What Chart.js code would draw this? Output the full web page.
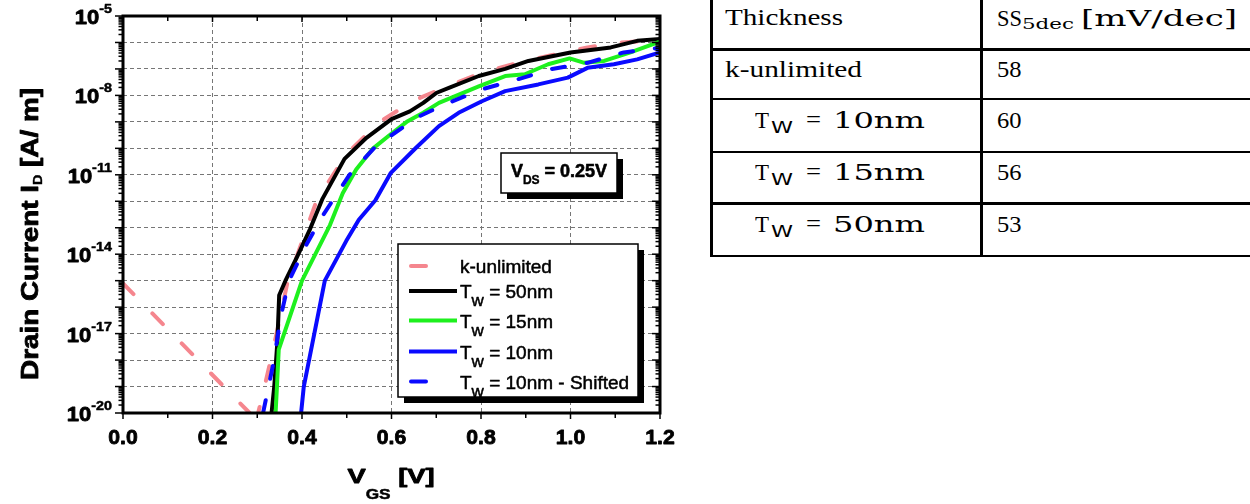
<!DOCTYPE html>
<html>
<head>
<meta charset="utf-8">
<script src="https://cdn.jsdelivr.net/npm/chart.js@4.4.1/dist/chart.umd.min.js"></script>
<style>
html, body { margin: 0; padding: 0; background: #fff; }
#wrap { position: relative; width: 1250px; height: 504px; overflow: hidden; }
#plot { position: absolute; left: 0; top: 0; }
.ln { position: absolute; background: #000; }
.tx { position: absolute; white-space: pre; color: #000; transform-origin: 0 0; }
</style>
</head>
<body>
<div id="wrap">
  <canvas id="plot" width="700" height="504"></canvas>
  <div id="tbl"></div>
</div>
<script>
'use strict';

// values, V_GS in volts, I_D in A/um
var kUnlimitedV = [0, 0.283, 0.292, 0.302, 0.315, 0.334, 0.351, 0.367, 0.387, 0.433, 0.5, 0.574, 0.649, 0.724, 0.802, 0.883, 0.957, 1.038, 1.112, 1.2];
var kUnlimitedI = [7.9e-16, 1.0e-20, 3.2e-22, 1.0e-20, 7.9e-20, 2.0e-18, 4.0e-17, 7.9e-16, 7.1e-15, 1.1e-12, 6.3e-11, 1.0e-9, 6.3e-9, 2.2e-8, 7.2e-8, 1.7e-7, 3.3e-7, 6.5e-7, 1.0e-6, 1.2e-6];

var tw50V = [0.332, 0.338, 0.345, 0.349, 0.363, 0.389, 0.418, 0.446, 0.495, 0.544, 0.6, 0.641, 0.671, 0.701, 0.731, 0.795, 0.854, 0.906, 1.0, 1.09, 1.149, 1.2];
var tw50I = [1.0e-20, 1.0e-19, 5.0e-18, 2.8e-16, 1.0e-15, 7.9e-15, 8.9e-14, 1.26e-12, 4.0e-11, 2.5e-10, 1.26e-9, 2.5e-9, 5.2e-9, 1.26e-8, 2.0e-8, 5.4e-8, 1.0e-7, 2.0e-7, 4.2e-7, 6.5e-7, 1.15e-6, 1.35e-6];

var tw15V = [0.341, 0.344, 0.348, 0.4, 0.4625, 0.491, 0.521, 0.559, 0.596, 0.634, 0.671, 0.706, 0.795, 0.854, 0.898, 0.95, 0.998, 1.031, 1.075, 1.134, 1.2];
var tw15I = [1.0e-20, 1.0e-19, 2.5e-18, 1.0e-15, 1.26e-13, 2.0e-12, 1.6e-11, 1.0e-10, 3.2e-10, 1.0e-9, 2.2e-9, 5.2e-9, 2.2e-8, 5.4e-8, 6.3e-8, 1.5e-7, 2.5e-7, 1.7e-7, 2.0e-7, 4.2e-7, 1.07e-6];

var tw10V = [0.398, 0.404, 0.451, 0.499, 0.527, 0.564, 0.598, 0.656, 0.706, 0.75, 0.802, 0.854, 0.928, 0.994, 1.038, 1.097, 1.149, 1.2];
var tw10I = [1.0e-20, 1.0e-19, 1.0e-15, 3.2e-14, 2.0e-13, 1.1e-12, 1.15e-11, 1.1e-10, 6.9e-10, 2.2e-9, 6.0e-9, 1.45e-8, 2.6e-8, 4.7e-8, 1.1e-7, 1.5e-7, 2.3e-7, 4.2e-7];

var tw10ShiftV = [0.313, 0.3375, 0.352, 0.371, 0.411, 0.446, 0.506, 0.566, 0.626, 0.656, 0.714, 0.802, 0.883, 0.957, 1.038, 1.119, 1.2];
var tw10ShiftI = [1.0e-20, 1.0e-18, 4.0e-17, 1.0e-15, 2.5e-14, 2.8e-13, 1.0e-11, 1.26e-10, 6.3e-10, 1.45e-9, 4.2e-9, 1.7e-8, 4.1e-8, 9.8e-8, 1.7e-7, 4.2e-7, 6.3e-7];

var seriesLabels = ['k-unlimited', 'T_w = 50nm', 'T_w = 15nm', 'T_w = 10nm', 'T_w = 10nm - Shifted'];

// axis ticks
var xTickValues = [0, 0.2, 0.4, 0.6, 0.8, 1.0, 1.2];
var xTickLabels = ['0.0', '0.2', '0.4', '0.6', '0.8', '1.0', '1.2'];
var yDecades = [1e-20, 1e-19, 1e-18, 1e-17, 1e-16, 1e-15, 1e-14, 1e-13, 1e-12, 1e-11, 1e-10, 1e-9, 1e-8, 1e-7, 1e-6, 1e-5];
var yTickValues = [1e-5, 1e-8, 1e-11, 1e-14, 1e-17, 1e-20];
var yTickExps = ['-5', '-8', '-11', '-14', '-17', '-20'];

// table
var thicknessLabels = ['k-unlimited', 'T_W = 10nm', 'T_W = 15nm', 'T_W = 50nm'];
var ssValues = ['58', '60', '56', '53'];

var SANS = '"Liberation Sans", Arial, sans-serif';
var SERIF = '"Liberation Serif", "Times New Roman", serif';
var MATH = '"DejaVu Serif", serif';

function pts(xs, ys) {
  return xs.map(function(x, i) { return {x: x, y: ys[i]}; });
}

// a run of text pieces, each {t, f, sx, dy, st}
function partsWidth(ctx, parts) {
  var w = 0;
  parts.forEach(function(p) {
    ctx.font = p.f;
    p.w = ctx.measureText(p.t).width * (p.sx || 1);
    w += p.w;
  });
  return w;
}
function drawParts(ctx, parts, x, y) {
  var cx = x;
  parts.forEach(function(p) {
    ctx.save();
    ctx.font = p.f;
    ctx.textAlign = 'left';
    ctx.textBaseline = 'alphabetic';
    ctx.translate(cx, y + (p.dy || 0));
    ctx.scale(p.sx || 1, 1);
    ctx.fillText(p.t, 0, 0);
    if (p.st) {
      // heavier strokes like the original export
      ctx.lineWidth = p.st;
      ctx.strokeStyle = '#000';
      ctx.lineJoin = 'round';
      ctx.strokeText(p.t, 0, 0);
    }
    ctx.restore();
    cx += p.w;
  });
}
function seg(ctx, x1, y1, x2, y2) {
  ctx.beginPath();
  ctx.moveTo(x1, y1);
  ctx.lineTo(x2, y2);
  ctx.stroke();
}
function shadowBox(ctx, x, y, w, h) {
  ctx.fillStyle = '#000';
  ctx.fillRect(x + 6, y + 6, w, h);
  ctx.fillStyle = '#fff';
  ctx.fillRect(x, y, w, h);
  ctx.strokeStyle = '#000';
  ctx.lineWidth = 1.5;
  ctx.strokeRect(x, y, w, h);
  ctx.fillStyle = '#000';
}

var decor = {
  id: 'decor',
  afterDraw: function(chart) {
    var ctx = chart.ctx, a = chart.chartArea;
    var xs = chart.scales.x, ys = chart.scales.y;
    ctx.save();
    ctx.strokeStyle = '#000';
    ctx.fillStyle = '#000';

    // y ticks, out on the left, in on the right
    ctx.lineWidth = 1.5;
    for (var e = -20; e <= -5; e++) {
      for (var m = 1; m <= 9; m++) {
        if (e === -5 && m > 1) break;
        var py = ys.getPixelForValue(m * Math.pow(10, e));
        var len = m === 1 ? 8 : 4.5;
        seg(ctx, a.left - len, py, a.left, py);
        seg(ctx, a.right, py, a.right - len, py);
      }
    }
    // x ticks, every 0.1
    for (var i = 0; i <= 12; i++) {
      var px = xs.getPixelForValue(i / 10);
      var l2 = i % 2 === 0 ? 6 : 5;
      seg(ctx, px, a.bottom, px, a.bottom + l2);
      seg(ctx, px, a.top, px, a.top + l2);
    }
    ctx.lineWidth = 3;
    ctx.strokeRect(a.left, a.top, a.right - a.left, a.bottom - a.top);

    // x tick labels
    xTickValues.forEach(function(v, k) {
      var parts = [{t: xTickLabels[k], f: 'bold 20px ' + SANS, sx: 1.06, st: 0.8}];
      var w = partsWidth(ctx, parts);
      drawParts(ctx, parts, xs.getPixelForValue(v) - w / 2, 444);
    });
    // y tick labels 10^n
    yTickValues.forEach(function(v, k) {
      var parts = [
        {t: '10', f: 'bold 20px ' + SANS, sx: 1.1, st: 0.8},
        {t: yTickExps[k], f: 'bold 13px ' + SANS, sx: 1.1, dy: -11, st: 0.5}
      ];
      var w = partsWidth(ctx, parts);
      drawParts(ctx, parts, 112 - w, ys.getPixelForValue(v) + 8);
    });

    // axis titles
    var xt = [
      {t: 'V', f: 'bold 21px ' + SANS, sx: 1.3, st: 0.8},
      {t: 'GS', f: 'bold 15px ' + SANS, sx: 1.15, dy: 16, st: 0.5},
      {t: ' [V]', f: 'bold 21px ' + SANS, sx: 1.3, st: 0.8}
    ];
    var xw = partsWidth(ctx, xt);
    drawParts(ctx, xt, 391 - xw / 2, 483);

    ctx.save();
    ctx.translate(37.5, 234);
    ctx.rotate(-Math.PI / 2);
    var yt = [
      {t: 'Drain Current I', f: 'bold 24px ' + SANS, sx: 1.16, st: 0.8},
      {t: 'D', f: 'bold 12px ' + SANS, sx: 1.2, dy: 4, st: 0.4},
      {t: ' [A/ m]', f: 'bold 24px ' + SANS, sx: 1.16, st: 0.8}
    ];
    var yw = partsWidth(ctx, yt);
    drawParts(ctx, yt, -yw / 2, 0);
    ctx.restore();

    // V_DS note
    shadowBox(ctx, 501, 153, 116, 40);
    var vd = [
      {t: 'V', f: 'bold 18px ' + SANS, st: 0.6},
      {t: 'DS', f: 'bold 12px ' + SANS, dy: 7, st: 0.4},
      {t: ' = 0.25V', f: 'bold 18px ' + SANS, st: 0.6}
    ];
    var vw = partsWidth(ctx, vd);
    drawParts(ctx, vd, 559 - vw / 2, 177);

    // legend
    shadowBox(ctx, 398, 244, 240, 153);
    var rowY = [266, 291, 320.5, 351.5, 381.5];
    chart.data.datasets.forEach(function(ds, k) {
      var y = rowY[k];
      ctx.save();
      ctx.strokeStyle = ds.borderColor;
      ctx.lineWidth = ds.borderWidth;
      if (ds.borderDash) {
        ctx.lineCap = 'round';
        seg(ctx, 411, y, 426, y);
      } else {
        seg(ctx, 409, y, 457, y);
      }
      ctx.restore();
      var lab = seriesLabels[k];
      var mm = lab.match(/^(.*?)_(\w)(.*)$/);
      var f = '19px ' + SANS;
      var parts = mm ?
        [{t: mm[1], f: f, st: 0.5}, {t: mm[2], f: '17px ' + SANS, dy: 8, st: 0.5}, {t: mm[3], f: f, st: 0.5}] :
        [{t: lab, f: f, st: 0.5}];
      partsWidth(ctx, parts);
      drawParts(ctx, parts, 460, y + 7);
    });

    ctx.restore();
  }
};

var gridOpts = {color: '#767676', lineWidth: 1, drawTicks: false, borderDash: [4, 3]};

new Chart(document.getElementById('plot'), {
  type: 'line',
  data: {
    datasets: [
      {data: pts(kUnlimitedV, kUnlimitedI), borderColor: '#f5868e', borderWidth: 4, borderDash: [15, 27], borderCapStyle: 'round', order: 5},
      {data: pts(tw50V, tw50I), borderColor: '#000000', borderWidth: 4, order: 4},
      {data: pts(tw15V, tw15I), borderColor: '#1ef01e', borderWidth: 4, order: 3},
      {data: pts(tw10V, tw10I), borderColor: '#0a0aff', borderWidth: 4, order: 2},
      {data: pts(tw10ShiftV, tw10ShiftI), borderColor: '#0a0aff', borderWidth: 4, borderDash: [13, 22], borderCapStyle: 'round', order: 1}
    ]
  },
  options: {
    responsive: false,
    animation: false,
    devicePixelRatio: 1,
    layout: {padding: {left: 123, right: 40, top: 16, bottom: 91}},
    plugins: {legend: {display: false}, tooltip: {enabled: false}},
    elements: {
      point: {radius: 0},
      line: {tension: 0, borderJoinStyle: 'round', fill: false}
    },
    datasets: {line: {clip: 0}},
    scales: {
      x: {
        type: 'linear', min: 0, max: 1.2,
        ticks: {display: false, stepSize: 0.2},
        grid: gridOpts,
        border: {display: false, dash: [4, 3]}
      },
      y: {
        type: 'logarithmic', min: 1e-20, max: 1e-5,
        ticks: {display: false},
        afterBuildTicks: function(scale) {
          scale.ticks = yDecades.map(function(v) { return {value: v}; });
        },
        grid: gridOpts,
        border: {display: false, dash: [4, 3]}
      }
    }
  },
  plugins: [decor]
});

// table, html text
var tbl = document.getElementById('tbl');
var mctx = document.createElement('canvas').getContext('2d');

function put(text, x, base, font, w) {
  mctx.font = font;
  var m = mctx.measureText(text);
  var asc = m.fontBoundingBoxAscent, desc = m.fontBoundingBoxDescent;
  var el = document.createElement('div');
  el.className = 'tx';
  el.textContent = text;
  el.style.font = font;
  el.style.lineHeight = (asc + desc) + 'px';
  el.style.left = x + 'px';
  el.style.top = (base - asc) + 'px';
  el.style.transform = 'scaleX(' + (w / m.width) + ')';
  tbl.appendChild(el);
}
function rule(x, y, w, h) {
  var el = document.createElement('div');
  el.className = 'ln';
  el.style.left = x + 'px';
  el.style.top = y + 'px';
  el.style.width = w + 'px';
  el.style.height = h + 'px';
  tbl.appendChild(el);
}

rule(710, 0, 2.6, 257);
rule(980.2, 0, 2.6, 257);
[48.3, 97.7, 150.7, 202.3, 254.7].forEach(function(y) { rule(710, y, 540, 2.5); });

var F = '23px ' + SERIF;
var FM = '23px ' + MATH;
put('Thickness', 725, 25, F, 118);
put('SS', 996.5, 25.5, F, 25);
put('5dec', 1022, 29, '15px ' + MATH, 52);
put('[mV/dec]', 1080.7, 25.5, '22px ' + MATH, 156);

var rowBase = [77.3, 128.3, 180, 231.7];
thicknessLabels.forEach(function(lab, k) {
  var b = rowBase[k];
  var mm = lab.match(/^T_W = (.*)$/);
  if (mm) {
    put('T', 755, b, '24px ' + SERIF, 14);
    put('W', 771, b + 5, '15px "DejaVu Sans", sans-serif', 22);
    put('=', 806, b - 1, F, 15);
    put(mm[1], 833, b, FM, 92);
  } else {
    put(lab, 725, b, F, 137);
  }
  put(ssValues[k], 996.5, b, F, 24.5);
});
</script>
</body>
</html>
